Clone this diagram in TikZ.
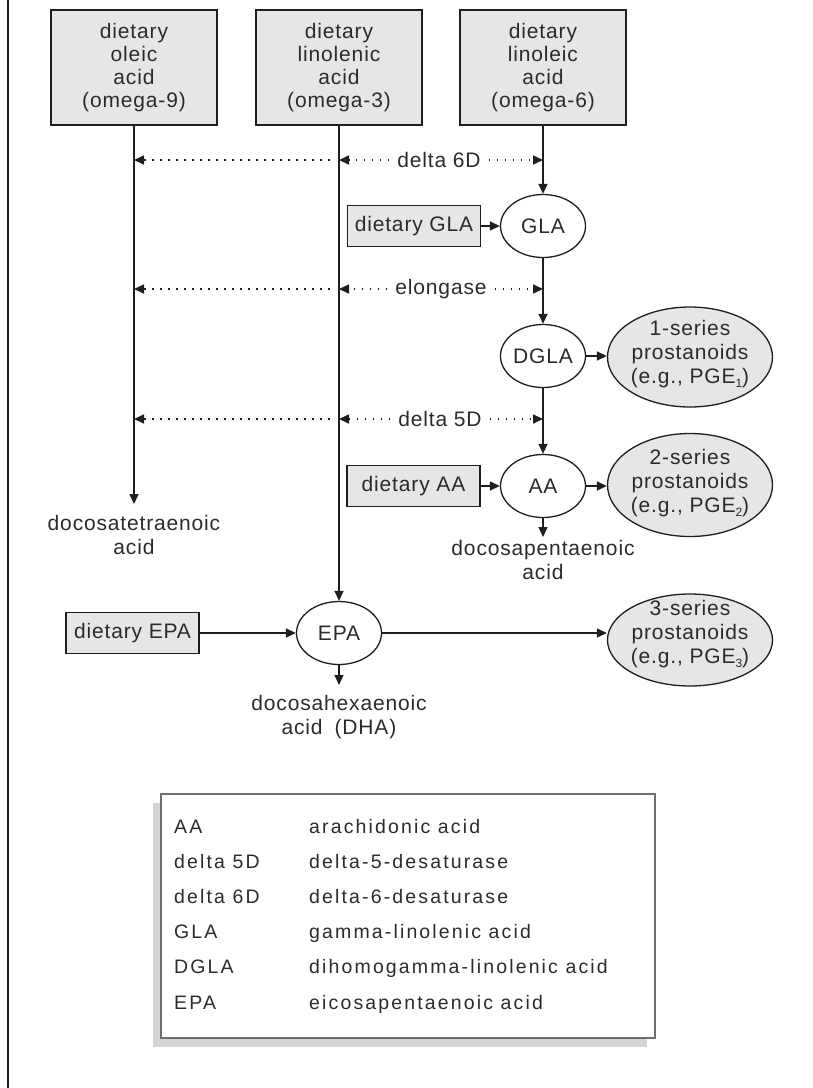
\documentclass[tikz,border=0pt]{standalone}
\usepackage{fontspec}
\setmainfont{Liberation Sans}
\newfontfamily\diagfont[LetterSpace=4]{Liberation Sans}
\newfontfamily\legfont[LetterSpace=11]{Liberation Sans}
\usetikzlibrary{arrows.meta,shapes.geometric}
\definecolor{txtc}{HTML}{2B2B2B}
\definecolor{linec}{HTML}{1E1E1E}
\definecolor{boxfill}{HTML}{E6E6E6}
\definecolor{shadowc}{HTML}{D2D3D5}
\definecolor{legborder}{HTML}{6E6E6E}
\newcommand{\subd}[1]{\raisebox{-0.35ex}{\fontsize{12}{12}\selectfont #1}}
\begin{document}
\begin{tikzpicture}[x=1pt,y=-1pt,
  dfont/.style={font={\diagfont\fontsize{21}{23}\selectfont}},
  topbox/.style={draw=linec, line width=1.3pt, fill=boxfill, minimum width=166pt, minimum height=115pt, inner sep=0pt, align=center, text=txtc, dfont},
  dietbox/.style={draw=linec, line width=1.3pt, fill=boxfill, minimum width=133pt, minimum height=41pt, inner sep=0pt, text=txtc, dfont},
  smallell/.style={ellipse, draw=linec, line width=1.3pt, fill=white, minimum width=85pt, minimum height=63pt, inner sep=0pt, text=txtc, dfont},
  bigell/.style={ellipse, draw=linec, line width=1.3pt, fill=boxfill, minimum width=165pt, minimum height=100pt, inner sep=0pt},
  lbl/.style={text=txtc, font={\diagfont\fontsize{21}{24}\selectfont}, align=center, inner sep=0pt},
  enz/.style={text=txtc, dfont, inner sep=8pt},
  legtxt/.style={text=txtc, font={\legfont\fontsize{19.5}{22}\selectfont}, anchor=base west, inner sep=0pt},
  arr/.style={-{Triangle[length=10pt,width=9pt]}, line width=1.4pt, draw=linec},
  dotarr/.style={-{Triangle[length=10pt,width=9pt]}, line width=1.6pt, draw=linec, dash pattern=on 1.6pt off 6.4pt}
]
\useasboundingbox (0,0) rectangle (812,1088);
% left border
\draw[line width=2.2pt, linec] (8,0) -- (8,1088);

% top boxes
\node[topbox] (box1) at (134,67.5) {dietary\\oleic\\acid\\(omega-9)};
\node[topbox] (box2) at (339,67.5) {dietary\\linolenic\\acid\\(omega-3)};
\node[topbox] (box3) at (543,67.5) {dietary\\linoleic\\acid\\(omega-6)};

% chain nodes
\node[smallell] (GLA) at (543,226) {\makebox[0pt]{GLA}};
\node[smallell] (DGLA) at (543,356) {\makebox[0pt]{DGLA}};
\node[smallell] (AA) at (543,486) {\makebox[0pt]{AA}};
\node[smallell] (EPA) at (339,633) {\makebox[0pt]{EPA}};

\node[dietbox] (dGLA) at (414,226) {dietary GLA};
\node[dietbox] (dAA) at (413.5,486) {dietary AA};
\node[dietbox] (dEPA) at (132.5,633) {dietary EPA};

\node[bigell] (s1) at (690,357) {};
\node[bigell, minimum height=103pt] (s2) at (690,485) {};
\node[bigell, minimum height=92pt] (s3) at (690,640) {};
\node[lbl] (s1t) at (690,354) {1-series\\prostanoids\\(e.g., PGE\subd{1})};
\node[lbl] (s2t) at (690,483) {2-series\\prostanoids\\(e.g., PGE\subd{2})};
\node[lbl] (s3t) at (690,634) {3-series\\prostanoids\\(e.g., PGE\subd{3})};

\node[lbl, anchor=north] (dta) at (134,515) {docosatetraenoic\\acid};
\node[lbl, anchor=north] (dpa) at (543,540) {docosapentaenoic\\acid};
\node[lbl, anchor=north] (dha) at (339,695) {docosahexaenoic\\acid\hspace{12pt}(DHA)};

% enzyme labels
\node[enz] (l6) at (439,160) {delta 6D};
\node[enz] (le) at (441,289) {elongase};
\node[enz] (l5) at (440,419) {delta 5D};

% vertical connectors
\draw[arr, shorten >=11pt] (box1.south) -- (dta.north);
\draw[arr] (box2.south) -- (EPA.north);
\draw[arr] (box3.south) -- (GLA.north);
\draw[arr] (GLA.south) -- (DGLA.north);
\draw[arr] (DGLA.south) -- (AA.north);
\draw[arr, shorten >=3pt] (AA.south) -- (dpa.north);
\draw[arr, shorten >=10pt] (EPA.south) -- (dha.north);

% horizontal connectors
\draw[arr] (dGLA.east) -- (dGLA.east -| GLA.west);
\draw[arr] (dAA.east) -- (dAA.east -| AA.west);
\draw[arr] (dEPA.east) -- (dEPA.east -| EPA.west);
\draw[arr] (DGLA.east) -- (DGLA.east -| s1.west);
\draw[arr] (AA.east) -- (AA.east -| s2.west);
\draw[arr] (EPA.east) -- (EPA.east -| s3.west);

% dotted enzyme arrows
\foreach \l in {l6,le,l5}{
  \draw[dotarr] (\l.west) -- (\l.west -| box2.south);
  \draw[dotarr] (\l.east) -- (\l.east -| box3.south);
  \draw[dotarr, shorten <=9pt] (\l.west -| box2.south) -- (\l.west -| box1.south);
}

% legend
\node[fill=shadowc, minimum width=494pt, minimum height=244pt, inner sep=0pt] (legshadow) at (400,925) {};
\node[fill=white, draw=legborder, line width=1.3pt, minimum width=494pt, minimum height=244pt, inner sep=0pt] (legend) at (408,916) {};
\node[legtxt] (k1) at (174,833) {AA};
\node[legtxt] (v1) at (309,833) {arachidonic acid};
\node[legtxt] (k2) at (174,868.2) {delta 5D};
\node[legtxt] (v2) at (309,868.2) {delta-5-desaturase};
\node[legtxt] (k3) at (174,903.4) {delta 6D};
\node[legtxt] (v3) at (309,903.4) {delta-6-desaturase};
\node[legtxt] (k4) at (174,938.6) {GLA};
\node[legtxt] (v4) at (309,938.6) {gamma-linolenic acid};
\node[legtxt] (k5) at (174,973.8) {DGLA};
\node[legtxt] (v5) at (309,973.8) {dihomogamma-linolenic acid};
\node[legtxt] (k6) at (174,1009) {EPA};
\node[legtxt] (v6) at (309,1009) {eicosapentaenoic acid};
\end{tikzpicture}
\end{document}
